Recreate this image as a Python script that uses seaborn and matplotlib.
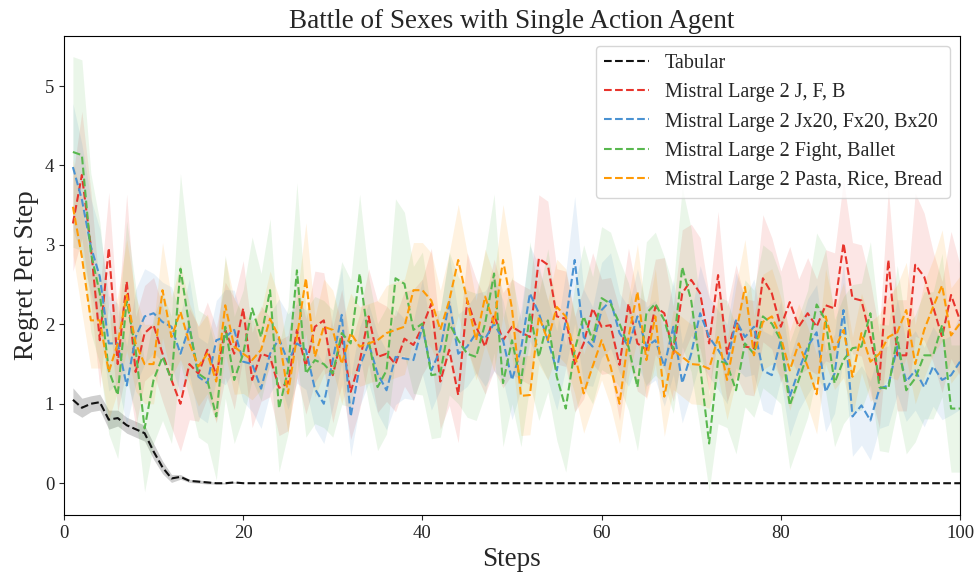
import numpy as np
import pandas as pd
import matplotlib
matplotlib.use("Agg")
import matplotlib.pyplot as plt
import seaborn as sns

# Steps 1..100
steps = list(range(1, 101))

tabular = [1.05, 0.95, 1.0, 1.02, 0.8, 0.82, 0.73, 0.68, 0.63, 0.4,
           0.2, 0.06, 0.08, 0.03, 0.02, 0.01, 0.0, 0.0, 0.01, 0.0] + [0.0] * 80
tabular_hw = [0.15, 0.12, 0.1, 0.1, 0.12, 0.1, 0.1, 0.1, 0.1, 0.1,
              0.08, 0.05, 0.03, 0.02, 0.02, 0.02, 0.01, 0.01, 0.01, 0.0] + [0.0] * 80

red = [3.27, 3.88, 2.98, 1.8, 2.96, 1.5, 2.54, 1.4, 1.89, 1.99,
       1.63, 1.3, 1.0, 1.5, 1.38, 1.68, 1.36, 1.93, 1.63, 2.2,
       1.3, 1.63, 1.59, 1.2, 1.26, 1.93, 1.47, 1.97, 2.05, 1.36,
       1.84, 1.15, 1.53, 2.1, 1.59, 1.63, 1.5, 1.82, 1.74, 1.97,
       2.26, 1.28, 1.68, 1.11, 2.3, 1.97, 1.72, 2.12, 1.8, 1.97,
       1.9, 1.84, 2.83, 2.75, 2.1, 2.07, 1.5, 1.76, 2.2, 1.97,
       1.99, 1.49, 2.26, 1.76, 1.68, 2.22, 2.14, 1.63, 2.39, 2.56,
       2.39, 1.76, 2.62, 1.63, 2.05, 1.72, 1.7, 2.58, 2.39, 1.97,
       2.28, 1.97, 2.14, 1.97, 2.24, 2.2, 3.02, 2.33, 2.3, 1.84,
       1.3, 2.81, 1.61, 1.61, 2.75, 2.6, 2.22, 1.84, 2.37, 2.05]
red_hw = [0.6, 0.8, 0.7, 0.6, 0.7, 0.6, 1.1, 0.7, 0.6, 0.6,
          0.6, 0.6, 0.6, 0.7, 0.6, 0.6, 0.6, 0.6, 0.7, 0.6,
          0.6, 0.6, 0.5, 0.6, 0.6, 0.6, 0.6, 0.7, 0.6, 0.6,
          0.6, 0.6, 0.6, 0.6, 0.7, 0.6, 0.6, 0.6, 0.7, 0.6,
          0.7, 0.6, 0.7, 0.6, 0.6, 0.6, 0.6, 0.7, 0.6, 0.6,
          0.6, 0.6, 0.8, 0.8, 0.6, 0.6, 0.6, 0.7, 0.7, 0.6,
          0.6, 0.7, 0.7, 0.6, 0.6, 0.6, 0.7, 0.6, 0.8, 0.7,
          0.7, 0.6, 0.8, 0.6, 0.7, 0.6, 0.6, 0.8, 0.7, 0.7,
          0.7, 0.6, 0.7, 0.6, 0.7, 0.7, 0.8, 0.7, 0.7, 0.7,
          0.6, 0.9, 0.7, 0.7, 0.9, 0.8, 0.7, 0.7, 0.8, 0.7]

blue = [3.98, 3.57, 2.98, 2.6, 1.76, 1.76, 1.23, 1.84, 2.1, 2.14,
        2.03, 1.97, 1.63, 1.97, 1.34, 1.26, 1.8, 1.84, 1.93, 1.53,
        1.5, 1.19, 1.63, 1.82, 1.53, 1.76, 1.68, 1.19, 1.0, 1.55,
        2.12, 0.84, 1.47, 1.76, 1.38, 1.17, 1.59, 1.57, 1.55, 1.97,
        1.42, 1.68, 2.28, 1.63, 1.72, 1.89, 1.82, 2.01, 1.8, 1.3,
        1.68, 2.39, 2.14, 1.8, 1.42, 2.05, 2.81, 1.84, 1.72, 2.18,
        2.3, 1.89, 1.72, 2.1, 1.72, 1.8, 1.47, 1.97, 1.26, 1.63,
        2.14, 1.84, 1.68, 1.5, 2.05, 1.84, 1.97, 1.42, 1.36, 1.8,
        1.09, 1.42, 1.72, 1.9, 1.15, 1.38, 2.18, 0.84, 0.98, 0.79,
        1.19, 1.23, 1.72, 1.28, 1.42, 1.21, 1.47, 1.3, 1.36, 1.53]
blue_hw = [0.8, 0.7, 0.6, 0.6, 0.6, 0.5, 0.5, 0.6, 0.6, 0.5,
           0.5, 0.5, 0.5, 0.6, 0.5, 0.5, 0.5, 0.6, 0.5, 0.5,
           0.6, 0.5, 0.5, 0.5, 0.6, 0.5, 0.5, 0.5, 0.5, 0.6,
           0.6, 0.5, 0.5, 0.5, 0.5, 0.5, 0.6, 0.5, 0.5, 0.6,
           0.5, 0.5, 0.6, 0.5, 0.5, 0.5, 0.6, 0.6, 0.5, 0.5,
           0.5, 0.6, 0.6, 0.5, 0.5, 0.6, 0.8, 0.6, 0.5, 0.6,
           0.6, 0.5, 0.5, 0.6, 0.5, 0.5, 0.5, 0.6, 0.5, 0.5,
           0.6, 0.5, 0.5, 0.5, 0.6, 0.5, 0.6, 0.5, 0.5, 0.5,
           0.5, 0.5, 0.6, 0.6, 0.5, 0.5, 0.6, 0.5, 0.5, 0.5,
           0.5, 0.5, 0.6, 0.5, 0.5, 0.5, 0.5, 0.5, 0.5, 0.6]

green = [4.17, 4.13, 2.9, 2.39, 1.42, 1.11, 2.3, 1.68, 0.69, 1.3,
         1.59, 1.3, 2.7, 1.97, 1.38, 1.3, 0.84, 1.97, 1.3, 1.63,
         2.2, 1.84, 2.43, 0.94, 1.42, 2.68, 1.38, 1.55, 1.5, 1.38,
         1.89, 1.76, 2.64, 1.8, 1.21, 1.42, 2.58, 2.51, 1.93, 2.01,
         1.36, 1.38, 2.01, 1.8, 1.63, 1.59, 2.01, 2.64, 1.26, 1.8,
         1.26, 2.14, 1.59, 2.05, 1.34, 0.94, 1.68, 2.1, 1.8, 2.33,
         2.26, 2.01, 1.72, 1.21, 2.14, 2.26, 2.05, 1.68, 2.72, 2.3,
         1.47, 0.5, 1.55, 1.5, 1.17, 1.76, 1.63, 2.1, 2.01, 1.8,
         0.98, 1.3, 1.63, 2.25, 2.05, 1.26, 1.55, 1.7, 1.72, 2.14,
         1.21, 1.19, 1.84, 1.17, 1.32, 1.61, 1.61, 1.99, 0.94, 0.94]
green_hw = [1.2, 1.2, 1.0, 0.9, 0.8, 0.8, 1.0, 0.8, 0.8, 0.8,
            0.8, 0.8, 1.2, 0.9, 0.8, 0.8, 0.8, 0.9, 0.8, 0.8,
            0.9, 0.8, 0.9, 0.8, 0.8, 1.1, 0.8, 0.8, 0.8, 0.8,
            0.9, 0.8, 1.0, 0.8, 0.8, 0.8, 1.0, 0.9, 0.8, 0.9,
            0.8, 0.8, 0.9, 0.8, 0.8, 0.8, 0.9, 1.0, 0.8, 0.8,
            0.8, 0.9, 0.8, 0.9, 0.8, 0.8, 0.8, 0.9, 0.8, 0.9,
            0.9, 0.8, 0.8, 0.8, 0.9, 0.9, 0.8, 0.8, 1.0, 0.9,
            0.8, 0.6, 0.8, 0.8, 0.8, 0.8, 0.8, 0.9, 0.9, 0.8,
            0.8, 0.8, 0.8, 0.9, 0.9, 0.8, 0.8, 0.8, 0.8, 0.9,
            0.8, 0.8, 0.9, 0.8, 0.8, 0.8, 0.8, 0.9, 0.8, 0.8]

orange = [3.48, 2.85, 2.05, 2.05, 1.4, 1.76, 2.37, 1.76, 1.5, 1.5,
          2.43, 1.84, 2.16, 1.76, 1.47, 1.63, 1.28, 2.24, 1.72, 1.63,
          1.55, 1.68, 2.07, 1.84, 1.13, 1.84, 2.58, 1.59, 1.97, 1.93,
          1.5, 1.89, 1.72, 1.76, 1.8, 1.89, 1.93, 1.97, 2.43, 2.43,
          2.3, 1.93, 2.3, 2.81, 2.3, 1.8, 2.35, 2.01, 2.81, 2.2,
          1.1, 1.11, 2.1, 1.8, 2.22, 2.1, 1.63, 1.13, 1.47, 1.8,
          1.47, 1.0, 1.84, 2.41, 1.55, 2.1, 1.09, 1.68, 1.59, 1.5,
          1.49, 1.44, 1.84, 1.3, 1.89, 2.47, 1.61, 2.03, 2.1, 1.84,
          1.42, 1.76, 1.47, 1.12, 2.1, 1.68, 1.93, 1.34, 1.89, 1.53,
          1.63, 1.84, 1.9, 2.18, 1.5, 1.93, 2.22, 2.49, 1.86, 2.01]
orange_hw = [0.6, 0.7, 0.6, 0.6, 0.6, 0.6, 0.7, 0.6, 0.5, 0.5,
             0.6, 0.5, 0.6, 0.5, 0.5, 0.5, 0.5, 0.6, 0.6, 0.5,
             0.5, 0.5, 0.6, 0.5, 0.5, 0.5, 0.7, 0.5, 0.6, 0.5,
             0.5, 0.5, 0.5, 0.5, 0.5, 0.6, 0.6, 0.6, 0.6, 0.6,
             0.6, 0.5, 0.6, 0.7, 0.6, 0.5, 0.6, 0.6, 0.7, 0.6,
             0.5, 0.5, 0.6, 0.5, 0.6, 0.6, 0.5, 0.5, 0.5, 0.5,
             0.5, 0.5, 0.5, 0.6, 0.5, 0.6, 0.5, 0.5, 0.5, 0.5,
             0.5, 0.5, 0.5, 0.5, 0.6, 0.6, 0.5, 0.6, 0.6, 0.5,
             0.5, 0.5, 0.5, 0.5, 0.6, 0.5, 0.6, 0.5, 0.5, 0.5,
             0.5, 0.5, 0.6, 0.6, 0.5, 0.6, 0.6, 0.7, 0.6, 0.6]

labels = ["Tabular",
          "Mistral Large 2 J, F, B",
          "Mistral Large 2 Jx20, Fx20, Bx20",
          "Mistral Large 2 Fight, Ballet",
          "Mistral Large 2 Pasta, Rice, Bread"]
colors = ["#111111", "#e8342c", "#4a92d2", "#58b84e", "#ff9a05"]
means = [tabular, red, blue, green, orange]
halfwidths = [tabular_hw, red_hw, blue_hw, green_hw, orange_hw]

sns.set_style("ticks")
plt.rcParams["font.family"] = ["Liberation Serif", "DejaVu Serif"]

fig, ax = plt.subplots(figsize=(9.78, 5.74), dpi=100)
fig.subplots_adjust(left=0.0654, right=0.9816, top=0.9373, bottom=0.1028)

for label, color, m, hw in zip(labels, colors, means, halfwidths):
    df = pd.DataFrame({"step": steps, "value": m})
    lo = np.array(m) - np.array(hw)
    hi = np.array(m) + np.array(hw)
    band_alpha = 0.2 if label == "Tabular" else 0.12
    ax.fill_between(steps, lo, hi, color=color, alpha=band_alpha, linewidth=0)
    sns.lineplot(data=df, x="step", y="value", color=color, linestyle="--",
                 linewidth=1.5, label=label, ax=ax)

ax.set_xlim(0, 100)
ax.set_ylim(-0.4, 5.63)
ax.set_xticks([0, 20, 40, 60, 80, 100])
ax.set_yticks([0, 1, 2, 3, 4, 5])
ax.tick_params(labelsize=13.5)
ax.set_title("Battle of Sexes with Single Action Agent", fontsize=19.5)
ax.set_xlabel("Steps", fontsize=19.5)
ax.set_ylabel("Regret Per Step", fontsize=19.5)
for s in ax.spines.values():
    s.set_visible(True)
    s.set_color("black")

ax.legend(loc="upper right", fontsize=14.5, handlelength=2.2)

plt.savefig("out.png", dpi=100)
plt.close()
